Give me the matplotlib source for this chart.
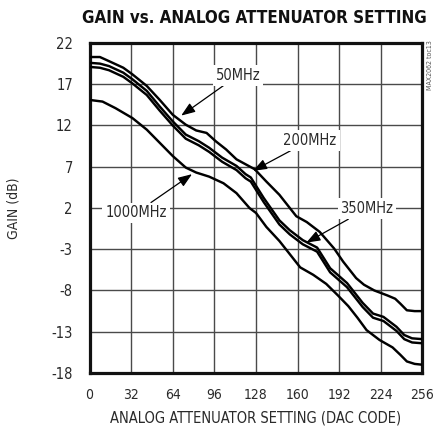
import matplotlib
matplotlib.use("Agg")
import matplotlib.pyplot as plt

plt.rcParams['font.family'] = ['Liberation Sans Narrow', 'DejaVu Sans']
plt.rcParams['font.stretch'] = 'condensed'
plt.rcParams['axes.unicode_minus'] = False

# DAC code vs gain (dB)
code_50 = [0, 8, 15, 26, 33, 44, 54, 64, 74, 82, 90, 97, 105, 113, 120, 127, 136, 146, 151, 159,
           167, 177, 188, 195, 205, 211, 219, 229, 235, 239, 244, 250, 256]
gain_50 = [20.3, 20.3, 19.8, 19.0, 18.2, 16.8, 15.1, 13.3, 12.1, 11.4, 11.1, 10.1, 9.1, 7.9, 7.3, 6.7,
           5.2, 3.6, 2.6, 1.0, 0.3, -0.9, -2.9, -4.5, -6.5, -7.3, -8.0, -8.6, -9.0, -9.6, -10.4, -10.5, -10.5]

code_200 = [0, 8, 15, 26, 33, 44, 54, 64, 74, 84, 92, 102, 113, 120, 124, 134, 146, 154, 164, 175,
            185, 198, 210, 218, 226, 236, 242, 248, 256]
gain_200 = [19.6, 19.5, 19.2, 18.4, 17.6, 16.2, 14.3, 12.5, 10.9, 10.1, 9.3, 8.1, 7.1, 6.1, 5.7, 3.2,
            0.5, -0.7, -1.9, -2.8, -5.3, -7.1, -9.5, -10.8, -11.2, -12.4, -13.4, -13.8, -13.9]

code_350 = [0, 8, 15, 26, 33, 44, 54, 64, 74, 84, 92, 102, 113, 120, 124, 134, 146, 154, 164, 175,
            185, 198, 210, 218, 226, 236, 242, 248, 256]
gain_350 = [19.1, 19.0, 18.7, 17.9, 17.1, 15.7, 13.8, 12.0, 10.4, 9.6, 8.8, 7.6, 6.6, 5.6, 5.2, 2.7,
            0.0, -1.2, -2.4, -3.3, -5.8, -7.6, -10.0, -11.3, -11.7, -12.9, -13.9, -14.3, -14.4]

code_1000 = [0, 10, 20, 33, 44, 54, 64, 74, 82, 92, 103, 113, 123, 128, 136, 146, 154, 162, 172, 182,
             191, 199, 206, 213, 223, 233, 239, 244, 250, 256]
gain_1000 = [15.1, 14.9, 14.1, 12.9, 11.5, 9.9, 8.3, 6.9, 6.3, 5.8, 5.0, 3.8, 2.0, 1.4, -0.3, -2.0,
             -3.6, -5.2, -6.1, -7.2, -8.6, -9.9, -11.3, -12.8, -14.0, -14.9, -15.8, -16.6, -16.9, -17.0]

x_ticks = [0, 32, 64, 96, 128, 160, 192, 224, 256]
y_ticks = [-18, -13, -8, -3, 2, 7, 12, 17, 22]

# label text, arrow tip (code, gain), label centre (code, gain)
labels = ["50MHz", "200MHz", "350MHz", "1000MHz"]
tips = [(70.5, 13.2), (125.7, 6.5), (166.7, -2.2), (78.8, 6.1)]
label_pos = [(114.3, 18.1), (169.5, 10.2), (213.3, 1.9), (35.7, 1.4)]

fig = plt.figure(figsize=(4.33, 4.37), dpi=100)
ax = fig.add_axes([0.2067, 0.1465, 0.769, 0.7551])

for c, g in [(code_50, gain_50), (code_200, gain_200), (code_350, gain_350), (code_1000, gain_1000)]:
    ax.plot(c, g, color='black', lw=1.75, solid_joinstyle='round', zorder=3)

ax.set_xlim(0, 256)
ax.set_ylim(-18, 22)
ax.set_xticks(x_ticks)
ax.set_yticks(y_ticks)
ax.grid(True, color='#4a4a4a', lw=1.0)
ax.set_axisbelow(True)
ax.tick_params(length=0, labelsize=10.5, labelcolor='#2a2a2a')
ax.tick_params(axis='x', pad=11, labelsize=10)
ax.tick_params(axis='y', pad=12)
for s in ax.spines.values():
    s.set_linewidth(2.3)
    s.set_color('#111111')

ax.set_xlabel("ANALOG ATTENUATOR SETTING (DAC CODE)", fontsize=10.5, color='#2a2a2a', labelpad=6)
ax.set_ylabel("GAIN (dB)", fontsize=10, color='#2a2a2a', labelpad=22)

for txt, tip, pos in zip(labels, tips, label_pos):
    ax.annotate(txt, xy=tip, xytext=pos, ha='center', va='center', fontsize=10.5, color='#2a2a2a',
                bbox=dict(boxstyle='square,pad=0.2', fc='white', ec='none'),
                arrowprops=dict(arrowstyle='-|>,head_length=0.8,head_width=0.3', color='black',
                                lw=0.9, shrinkA=0, shrinkB=0),
                zorder=5)

fig.text(0.588, 0.959, "GAIN vs. ANALOG ATTENUATOR SETTING", ha='center', va='center',
         fontsize=12.2, fontweight='bold', color='#111111')
fig.text(0.993, 0.85, "MAX2062 toc13", rotation=90, ha='center', va='center', fontsize=5,
         color='#555555')

fig.savefig("out.png", dpi=100)
